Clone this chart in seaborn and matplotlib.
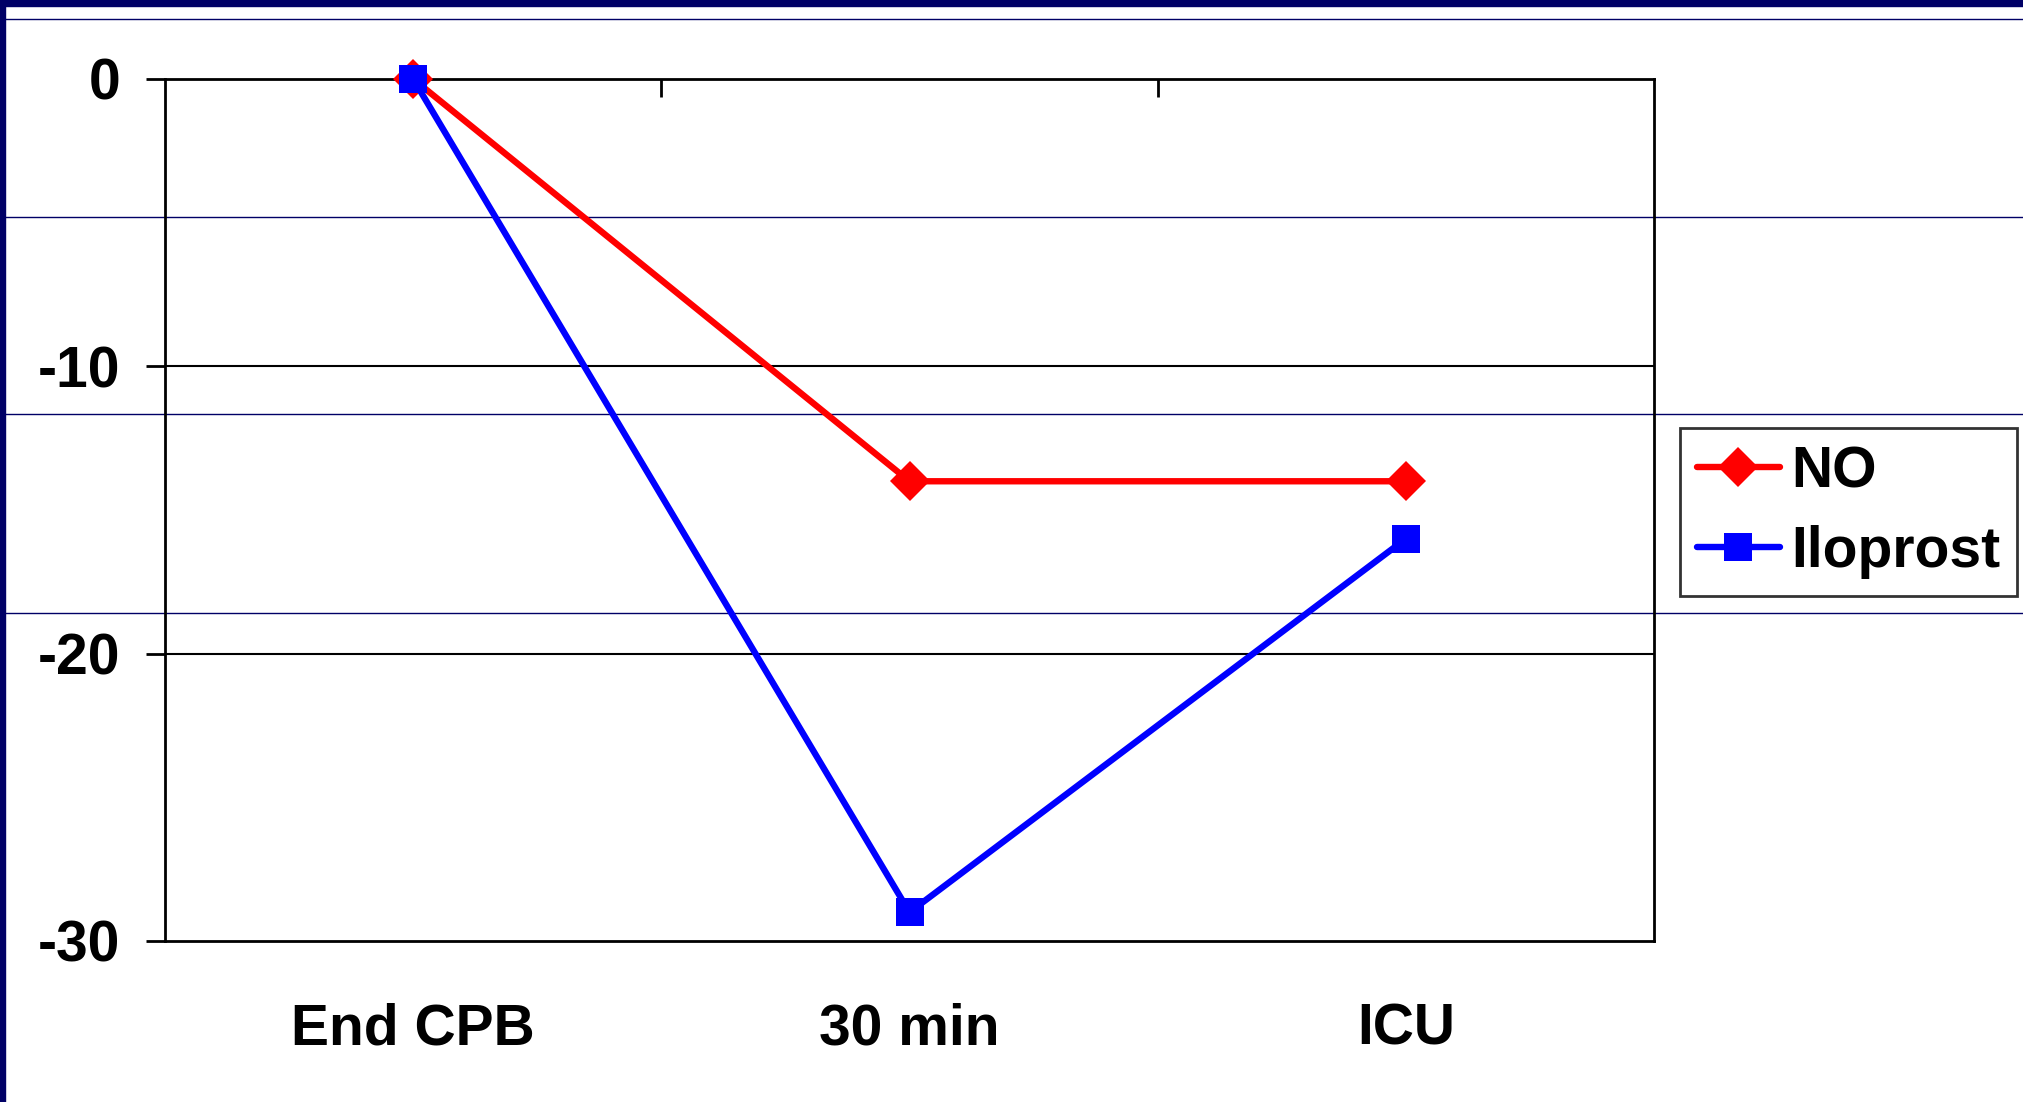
import matplotlib
matplotlib.use("Agg")
import matplotlib.pyplot as plt
from matplotlib.lines import Line2D
from matplotlib.patches import Rectangle
import seaborn as sns
import pandas as pd

categories = ["End CPB", "30 min", "ICU"]
series_names = ["NO", "Iloprost"]
no_values = [0, -14, -14]
iloprost_values = [0, -29, -16]
y_ticks = [0, -10, -20, -30]

df = pd.DataFrame({
    "time": categories * 2,
    "value": no_values + iloprost_values,
    "group": [series_names[0]] * 3 + [series_names[1]] * 3,
})

sns.set_theme(style="white")
plt.rcParams["font.family"] = ["Liberation Sans", "DejaVu Sans"]
plt.rcParams["font.weight"] = "bold"
plt.rcParams["text.color"] = "black"

W, H = 2023, 1102
fig = plt.figure(figsize=(W / 100, H / 100), dpi=100)
fig.patch.set_facecolor("white")

navy = "#000066"
# slide decoration
for ypx in [19, 217, 414, 613]:
    fig.add_artist(Line2D([0, 1], [1 - ypx / H, 1 - ypx / H], transform=fig.transFigure,
                          color=navy, lw=1.0, zorder=0))
fig.add_artist(Rectangle((0, 1 - 6 / H), 1, 6 / H, transform=fig.transFigure,
                         color=navy, zorder=5))
fig.add_artist(Rectangle((0, 0), 5 / W, 1, transform=fig.transFigure,
                         color=navy, zorder=5))

ax = fig.add_axes([165 / W, 1 - 941 / H, (1654 - 165) / W, (941 - 79) / H])
ax.patch.set_alpha(0)

LW = 4.6
MS = 20
sns.lineplot(data=df, x="time", y="value", hue="group", style="group",
             palette={"NO": "#ff0000", "Iloprost": "#0000ff"},
             markers={"NO": "D", "Iloprost": "s"}, dashes=False,
             sort=False, linewidth=LW, markersize=MS, markeredgewidth=0,
             ax=ax, zorder=4, clip_on=False)

ax.set_xlim(-0.5, 2.5)
ax.set_ylim(-30, 0)
ax.set_yticks(y_ticks)
ax.set_yticklabels([str(v) for v in y_ticks])
ax.set_xticks(range(len(categories)))
ax.set_xticklabels(categories)
ax.set_xticks([0.5, 1.5], minor=True)
ax.set_xlabel("")
ax.set_ylabel("")

for t in ax.get_xticklabels() + ax.get_yticklabels():
    t.set_fontsize(41)
    t.set_fontweight("bold")
    t.set_color("black")

ax.tick_params(axis="x", which="major", length=0, pad=44, bottom=True, top=False)
ax.tick_params(axis="x", which="minor", direction="in", length=13, width=2,
               top=True, bottom=False, color="black")
ax.tick_params(axis="y", which="major", direction="out", length=14, width=2,
               left=True, pad=18, color="black")

for ys in [-10, -20]:
    ax.axhline(ys, color="black", lw=1.5, zorder=1)

for s in ax.spines.values():
    s.set_visible(True)
    s.set_color("black")
    s.set_linewidth(2.0)

leg = ax.legend(loc="upper left", bbox_to_anchor=(1680 / W, 1 - 428 / H),
                bbox_transform=fig.transFigure, frameon=True, fancybox=False,
                prop={"size": 41, "weight": "bold"}, handlelength=1.45,
                handletextpad=0.2, borderpad=0.3, labelspacing=0.45,
                borderaxespad=0)
leg.get_frame().set_edgecolor("black")
leg.get_frame().set_linewidth(2.0)
for txt in leg.get_texts():
    txt.set_color("black")
for h in leg.legend_handles:
    h.set_linewidth(LW)
    h.set_markersize(MS)

fig.savefig("out.png", dpi=100, facecolor="white")
